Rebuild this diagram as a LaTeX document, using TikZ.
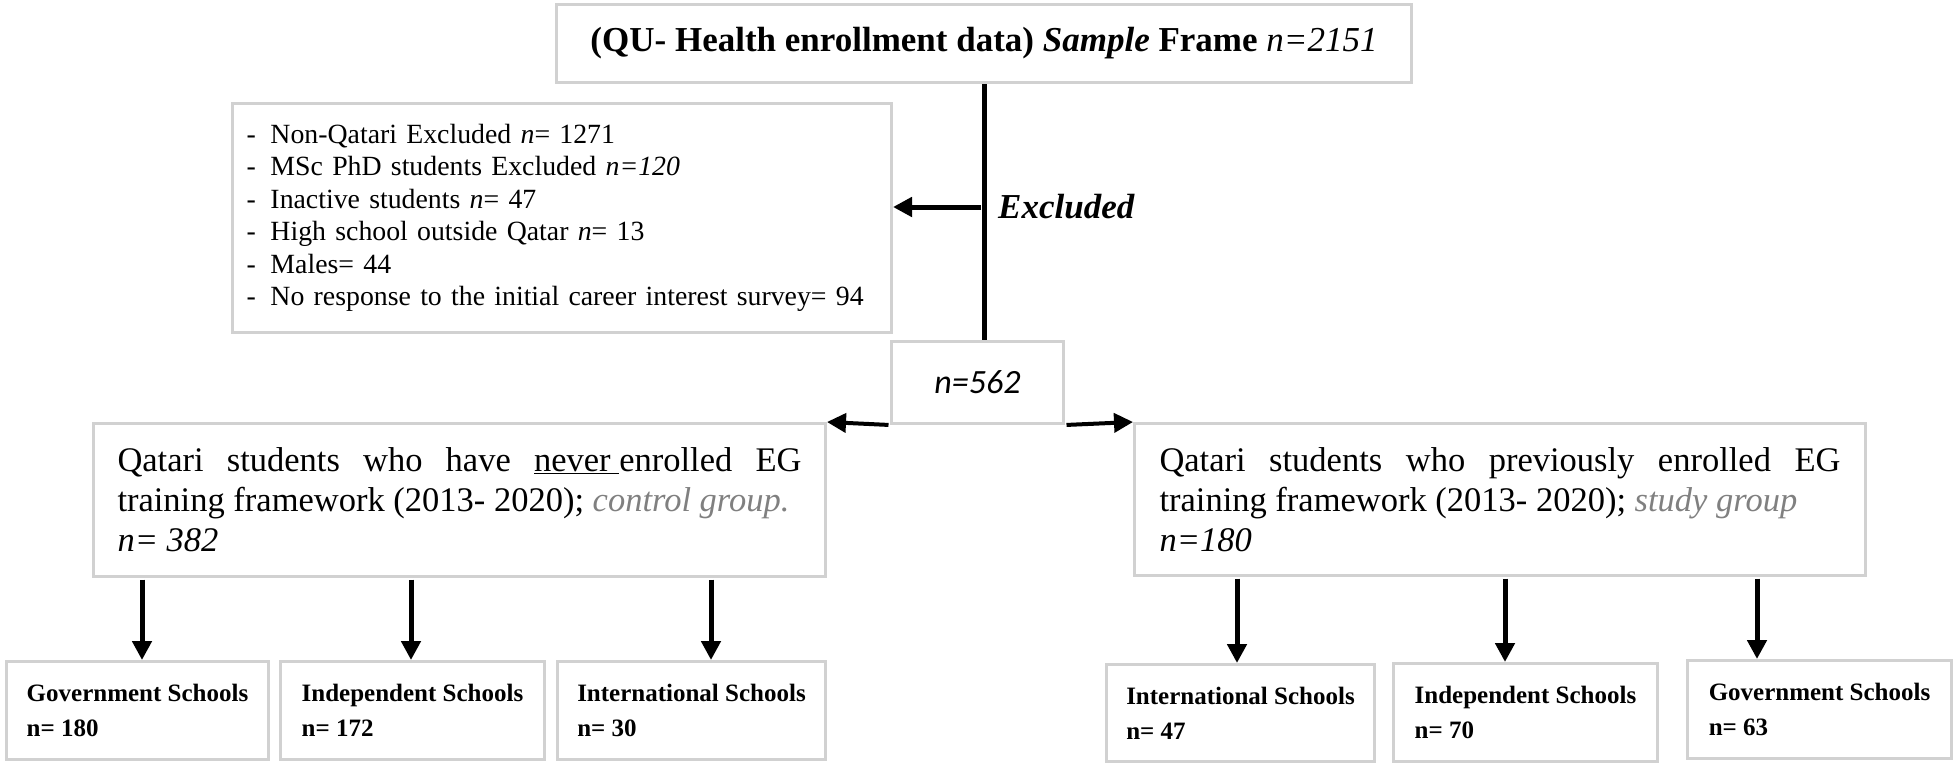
\documentclass[tikz,border=0pt]{standalone}
\usepackage{fontspec}
\setmainfont{Liberation Serif}
\newfontfamily\calibri{Carlito}
\usepackage{xcolor}
\usepackage{tikz}
\usetikzlibrary{arrows.meta}

\newcommand{\exitem}[1]{\makebox[24pt][l]{-}#1}

\begin{document}
\begin{tikzpicture}[x=1pt,y=-1pt,>={Triangle[length=19pt,width=19pt]},
  panel/.style={draw=black!18,line width=3pt,anchor=north west,inner sep=0pt},
  school/.style={panel,align=left,font=\fontsize{25}{35}\selectfont\bfseries},
  arr/.style={->,line width=5pt,shorten <=1.5pt}]
\useasboundingbox (0,0) rectangle (1955,763);

\node[panel,minimum width=855pt,minimum height=78pt,font=\fontsize{35}{40}\selectfont]
  (frame) at (555,3) {\textbf{(QU- Health enrollment data) \textit{Sample} Frame} \textit{n=2151}};

\node[panel,minimum height=229pt,text width=631pt,inner xsep=14pt,align=left,
  font=\fontsize{27.8}{32.5}\selectfont] (excl) at (231,102)
  {\exitem{Non-Qatari Excluded \textit{n}= 1271}\\
   \exitem{MSc PhD students Excluded \textit{n=120}}\\
   \exitem{Inactive students \textit{n}= 47}\\
   \exitem{High school outside Qatar \textit{n}= 13}\\
   \exitem{Males= 44}\\
   \exitem{No response to the initial career interest survey= 94}};

\node[panel,minimum width=172pt,minimum height=82pt,font=\calibri\itshape\fontsize{34}{40}\selectfont]
  (total) at (890,340) {n=562};

\node[panel,minimum height=153pt,text width=684pt,inner xsep=24pt,align=justify,
  font=\fontsize{34.5}{40}\selectfont] (control) at (92,422)
  {Qatari students who have \underline{never\ }enrolled EG\linebreak
   training framework (2013- 2020); {\color{black!50}\itshape control group.}\\
   \textit{n= 382}};

\node[panel,minimum height=152pt,text width=681pt,inner xsep=25pt,align=justify,
  font=\fontsize{34.5}{40}\selectfont] (study) at (1133,422)
  {Qatari students who previously enrolled EG\linebreak
   training framework (2013- 2020); {\color{black!50}\itshape study group}\\
   \textit{n=180}};

% schools of the control group
\node[school,minimum width=262pt,minimum height=98pt] (cgov) at (5,660) {Government Schools\\n= 180};
\node[school,minimum width=264pt,minimum height=98pt] (cind) at (279,660) {Independent Schools\\n= 172};
\node[school,minimum width=268pt,minimum height=98pt] (cint) at (556,660) {International Schools\\n= 30};

% schools of the study group
\node[school,minimum width=268pt,minimum height=97pt] (sint) at (1105,663) {International Schools\\n= 47};
\node[school,minimum width=264pt,minimum height=98pt] (sind) at (1392,662) {Independent Schools\\n= 70};
\node[school,minimum width=264pt,minimum height=98pt] (sgov) at (1686,659) {Government Schools\\n= 63};

\coordinate (split) at (982.5,207);
\node[anchor=base west,inner sep=0pt,font=\fontsize{35}{40}\selectfont\bfseries\itshape] (exlabel) at (998,218) {Excluded};

\draw[line width=5pt] (frame.south) -- (frame.south |- total.north);
\draw[arr] (split) -- (split -| excl.east);
\draw[arr,line width=4pt] (total.south west) -- (control.north east);
\draw[arr,line width=4pt] (total.south east) -- (study.north west);

\draw[arr] ([xshift=50pt]control.south west) -- ([xshift=50pt]control.south west |- cgov.north);
\draw[arr] ([xshift=319pt]control.south west) -- ([xshift=319pt]control.south west |- cind.north);
\draw[arr] ([xshift=619pt]control.south west) -- ([xshift=619pt]control.south west |- cint.north);
\draw[arr] ([xshift=104pt]study.south west) -- ([xshift=104pt]study.south west |- sint.north);
\draw[arr] ([xshift=372pt]study.south west) -- ([xshift=372pt]study.south west |- sind.north);
\draw[arr] ([xshift=624pt]study.south west) -- ([xshift=624pt]study.south west |- sgov.north);

\end{tikzpicture}
\end{document}
